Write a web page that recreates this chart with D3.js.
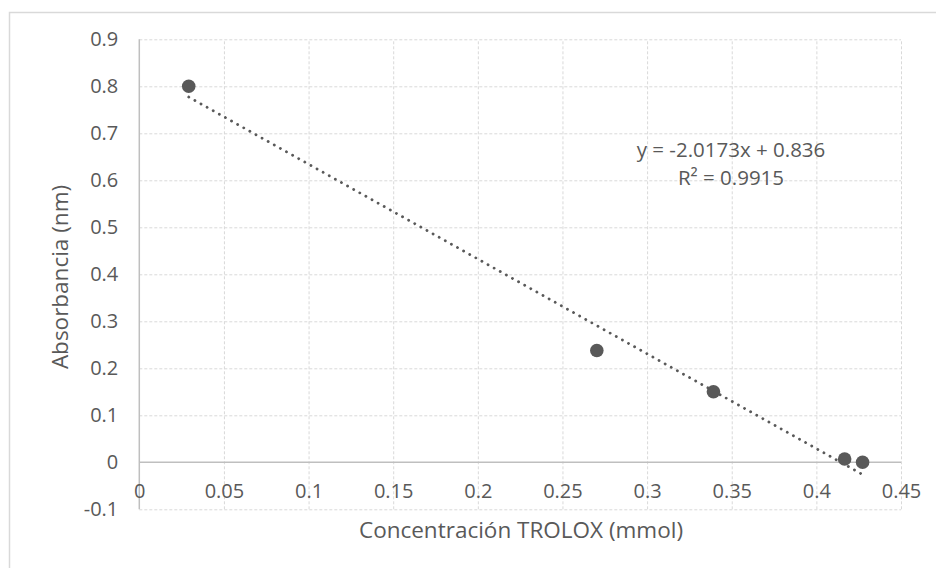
<!DOCTYPE html>
<html>
<head>
<meta charset="utf-8">
<script src="https://cdn.jsdelivr.net/npm/d3@7"></script>
<style>
  html, body { margin: 0; padding: 0; background: #fff; }
  svg { display: block; font-family: 'Open Sans', sans-serif; }
</style>
</head>
<body>
<svg id="chart" width="936" height="568"></svg>
<script>
// values
const concentration = [0.0292, 0.2703, 0.3392, 0.4167, 0.4273];
const absorbance = [0.800, 0.238, 0.150, 0.007, 0.000];
const xTicks = [0, 0.05, 0.1, 0.15, 0.2, 0.25, 0.3, 0.35, 0.4, 0.45];
const yTicks = [-0.1, 0, 0.1, 0.2, 0.3, 0.4, 0.5, 0.6, 0.7, 0.8, 0.9];
const trendSlope = -2.0173;
const trendIntercept = 0.836;
const equationLines = ['y = -2.0173x + 0.836', 'R\u00b2 = 0.9915'];
const labels = { x: 'Concentración TROLOX (mmol)', y: 'Absorbancia (nm)' };

const textColor = '#595959';
const markColor = '#595959';
const gridColor = '#d9d9d9';
const axisColor = '#bfbfbf';

const svg = d3.select('#chart');

// outer chart frame (only top and left edges are in view)
svg.append('rect')
  .attr('x', 9.5).attr('y', 12.5)
  .attr('width', 1000).attr('height', 700)
  .attr('fill', 'none')
  .attr('stroke', gridColor)
  .attr('stroke-width', 1.5);

const x = d3.scaleLinear().domain([0, 0.45]).range([139.3, 901]);
const y = d3.scaleLinear().domain([-0.1, 0.9]).range([509.3, 39.3]);
const plotWidth = x(0.45) - x(0);
const plotHeight = y(-0.1) - y(0.9);
const fmt = d => String(+d.toFixed(2));

const g = svg.append('g');

// horizontal grid
g.append('g')
  .attr('class', 'grid grid--y')
  .attr('transform', `translate(${x(0)},0)`)
  .call(d3.axisLeft(y).tickValues(yTicks.filter(d => d !== 0)).tickSize(-plotWidth).tickFormat(''))
  .call(sel => sel.select('.domain').remove())
  .selectAll('line')
  .attr('stroke', gridColor)
  .attr('stroke-dasharray', '3 2');

// vertical grid
g.append('g')
  .attr('class', 'grid grid--x')
  .attr('transform', `translate(0,${y(-0.1)})`)
  .call(d3.axisBottom(x).tickValues(xTicks.filter(d => d !== 0)).tickSize(-plotHeight).tickFormat(''))
  .call(sel => sel.select('.domain').remove())
  .selectAll('line')
  .attr('stroke', gridColor)
  .attr('stroke-dasharray', '3 2');

// axis lines
g.append('line')
  .attr('x1', x(0)).attr('x2', x(0))
  .attr('y1', y(-0.1)).attr('y2', y(0.9))
  .attr('stroke', axisColor).attr('stroke-width', 1.5);
g.append('line')
  .attr('x1', x(0)).attr('x2', x(0.45))
  .attr('y1', y(0)).attr('y2', y(0))
  .attr('stroke', axisColor).attr('stroke-width', 1.5);

// y tick labels
const yAxis = g.append('g')
  .attr('transform', `translate(${x(0)},0)`)
  .call(d3.axisLeft(y).tickValues(yTicks).tickSize(0).tickPadding(21).tickFormat(fmt));
yAxis.select('.domain').remove();
yAxis.selectAll('text')
  .attr('fill', textColor)
  .style('font-size', '20px')
  .style('font-family', "'Open Sans', sans-serif");

// x tick labels sit under the zero line
const xAxis = g.append('g')
  .attr('transform', `translate(0,${y(0)})`)
  .call(d3.axisBottom(x).tickValues(xTicks).tickSize(0).tickPadding(29).tickFormat(fmt));
xAxis.select('.domain').remove();
xAxis.selectAll('text')
  .attr('fill', textColor)
  .attr('dy', '0.32em')
  .style('font-size', '20px')
  .style('font-family', "'Open Sans', sans-serif");

// trendline
const xExtent = d3.extent(concentration);
const trend = xExtent.map(v => ({ x: v, y: trendSlope * v + trendIntercept }));
const line = d3.line().x(d => x(d.x)).y(d => y(d.y));
g.append('path')
  .attr('d', line(trend))
  .attr('fill', 'none')
  .attr('stroke', markColor)
  .attr('stroke-width', 2.8)
  .attr('stroke-linecap', 'round')
  .attr('stroke-dasharray', '0.1 6.9');

// points
g.selectAll('.point')
  .data(concentration.map((c, i) => ({ x: c, y: absorbance[i] })))
  .enter().append('circle')
  .attr('class', 'point')
  .attr('cx', d => x(d.x))
  .attr('cy', d => y(d.y))
  .attr('r', 6.8)
  .attr('fill', markColor);

// equation label
svg.append('g')
  .selectAll('text')
  .data(equationLines)
  .enter().append('text')
  .attr('x', 731)
  .attr('y', (d, i) => 157 + i * 28)
  .attr('text-anchor', 'middle')
  .attr('fill', textColor)
  .style('font-size', '20.5px')
  .text(d => d);

// axis titles
svg.append('text')
  .attr('x', 521)
  .attr('y', 537.5)
  .attr('text-anchor', 'middle')
  .attr('fill', textColor)
  .style('font-size', '22.5px')
  .text(labels.x);

svg.append('text')
  .attr('transform', 'translate(68,277) rotate(-90)')
  .attr('text-anchor', 'middle')
  .attr('fill', textColor)
  .style('font-size', '22.5px')
  .text(labels.y);
</script>
</body>
</html>
